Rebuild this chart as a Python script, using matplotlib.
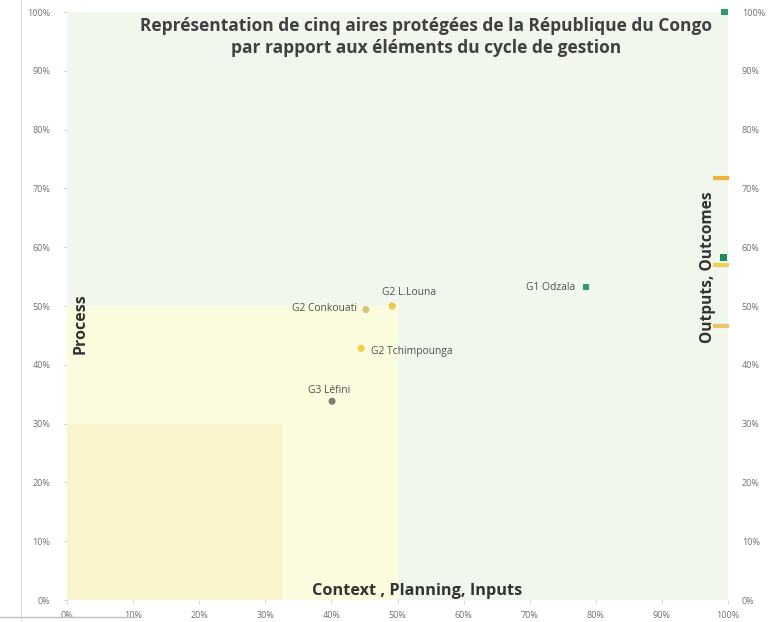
import matplotlib
matplotlib.use("Agg")
import matplotlib.pyplot as plt
from matplotlib.patches import Rectangle
from matplotlib.ticker import PercentFormatter

# ---- data ----
names = ["G1 Odzala", "G2 L.Louna", "G2 Conkouati", "G2 Tchimpounga", "G3 Léfini"]
x_ctx = [0.785, 0.492, 0.452, 0.445, 0.401]
y_proc = [0.532, 0.500, 0.494, 0.428, 0.338]
pt_colors = ["#2e9e68", "#f2c744", "#d9c27c", "#f2cf4a", "#7f7f70"]
pt_markers = ["s", "o", "o", "o", "o"]

out_x = [0.995, 0.990, 0.993, 0.990, 0.990]
out_y = [1.000, 0.718, 0.582, 0.570, 0.466]
out_colors = ["#2e9e68", "#f0b43a", "#1f8a5c", "#f0d050", "#edc36a"]
out_markers = ["s", "_", "s", "_", "_"]

# zones
zone_x0 = [0.0, 0.0]
zone_w = [0.50, 0.325]
zone_h = [0.50, 0.30]
zone_colors = ["#fbfbde", "#f9f4cb"]

ticks = [i / 10 for i in range(11)]

FONT = "Open Sans"

fig = plt.figure(figsize=(7.68, 6.22), dpi=100)
ax = fig.add_axes([67 / 768, 22 / 622, 661 / 768, 588 / 622])
ax.set_facecolor("#f1f7ec")
ax.set_xlim(0, 1)
ax.set_ylim(0, 1)

for x0, w, h, c in zip(zone_x0, zone_w, zone_h, zone_colors):
    ax.add_patch(Rectangle((x0, 0), w, h, facecolor=c, edgecolor="none", zorder=0.5))

for xv, yv, c, m in zip(x_ctx, y_proc, pt_colors, pt_markers):
    ax.scatter([xv], [yv], s=22 if m == "s" else 26, c=c, marker=m, zorder=3, edgecolors="none")

for xv, yv, c, m in zip(out_x, out_y, out_colors, out_markers):
    if m == "_":
        ax.plot([xv], [yv], marker="_", markersize=11, markeredgewidth=3, color=c, zorder=3, clip_on=False)
    else:
        ax.scatter([xv], [yv], s=24, c=c, marker=m, zorder=4, edgecolors="none", clip_on=False)

lab_kw = dict(fontsize=7.4, color="#505050", family=FONT)
ax.annotate(names[0], (x_ctx[0], y_proc[0]), xytext=(-8, 0), textcoords="offset points", ha="right", va="center", **lab_kw)
ax.annotate(names[1], (x_ctx[1], y_proc[1]), xytext=(-7, 10), textcoords="offset points", ha="left", va="center", **lab_kw)
ax.annotate(names[2], (x_ctx[2], y_proc[2]), xytext=(-6, 0.5), textcoords="offset points", ha="right", va="center", **lab_kw)
ax.annotate(names[3], (x_ctx[3], y_proc[3]), xytext=(7, -2), textcoords="offset points", ha="left", va="center", **lab_kw)
ax.annotate(names[4], (x_ctx[4], y_proc[4]), xytext=(-2, 7.5), textcoords="offset points", ha="center", va="center", **lab_kw)

ax.set_xticks(ticks)
ax.set_yticks(ticks)
ax.xaxis.set_major_formatter(PercentFormatter(1.0, decimals=0))
ax.yaxis.set_major_formatter(PercentFormatter(1.0, decimals=0))
ax.tick_params(axis="both", labelsize=6.5, colors="#707070", length=3, width=0.6, color="#d0d0d0")
ax.tick_params(axis="x", pad=5)
ax.tick_params(axis="y", pad=9)
for lbl in ax.get_xticklabels() + ax.get_yticklabels():
    lbl.set_family(FONT)

ax2 = ax.twinx()
ax2.set_ylim(0, 1)
ax2.set_yticks(ticks)
ax2.yaxis.set_major_formatter(PercentFormatter(1.0, decimals=0))
ax2.tick_params(axis="y", labelsize=6.5, colors="#707070", length=0, pad=10)
for lbl in ax2.get_yticklabels():
    lbl.set_family(FONT)

for a in (ax, ax2):
    for s in a.spines.values():
        s.set_visible(False)
ax.axhline(0, color="#d8d8d8", lw=0.8, zorder=1)
ax.axvline(1.0, color="#dde6f0", lw=0.8, zorder=1)

ax.text(0.543, 0.992, "Représentation de cinq aires protégées de la République du Congo\npar rapport aux éléments du cycle de gestion",
        transform=ax.transAxes, ha="center", va="top", fontsize=12.5, fontweight="bold",
        color="#404040", family=FONT, linespacing=1.3)
ax.text(0.53, 0.015, "Context , Planning, Inputs", transform=ax.transAxes, ha="center", va="center",
        fontsize=11.7, fontweight="bold", color="#333333", family=FONT)
ax.text(0.02, 0.47, "Process", transform=ax.transAxes, ha="center", va="center", rotation=90,
        fontsize=11.5, fontweight="bold", color="#333333", family=FONT)
ax.text(0.97, 0.566, "Outputs, Outcomes", transform=ax.transAxes, ha="center", va="center", rotation=90,
        fontsize=11.2, fontweight="bold", color="#333333", family=FONT)

# screenshot frame lines
fig.add_artist(plt.Line2D([21 / 768, 21 / 768], [0, 1], color="#e0e0e0", lw=0.8))
fig.add_artist(plt.Line2D([0, 135 / 768], [5 / 622, 5 / 622], color="#c0c0c0", lw=1.0))

fig.savefig("out.png", dpi=100)
